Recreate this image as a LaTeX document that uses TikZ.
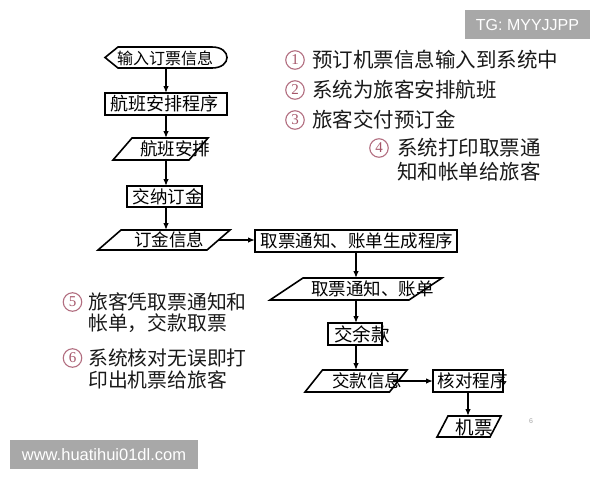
\documentclass[tikz,border=0pt]{standalone}
\usepackage{fontspec}
\setmainfont{Noto Sans CJK SC}
\newfontfamily\wmfont{Liberation Sans}
\newfontfamily\digitfont{Liberation Serif}
\usetikzlibrary{arrows.meta}
\definecolor{numcol}{RGB}{165,85,105}
\definecolor{wmgray}{RGB}{168,168,168}
\definecolor{txtcol}{RGB}{25,25,25}
\newcommand\mypara[6]{%
  \node[ghost, minimum width=#4pt, minimum height=#5pt] (#1) at (#2,#3) {};
  \draw[outline] ([xshift=#6pt]#1.north west) -- (#1.north east) -- ([xshift=-#6pt]#1.south east) -- (#1.south west) -- cycle;
}
\begin{document}
\begin{tikzpicture}[x=1pt,y=-1pt,
  ghost/.style={inner sep=0pt,outer sep=0pt,draw=none},
  outline/.style={line width=1.6pt,line join=miter,draw=black},
  rectbox/.style={ghost,draw=black,line width=1.6pt},
  arr/.style={line width=1.3pt,-{Latex[length=7pt,width=5.5pt]}},
  boxtxt/.style={inner sep=0pt,font=\fontsize{17.5}{18}\selectfont},
  listtxt/.style={anchor=west,inner sep=0pt,text=txtcol},
  numtxt/.style={circle,draw=numcol!85,line width=1.1pt,minimum size=18.5pt,inner sep=0pt,text=numcol,font=\digitfont\fontsize{15}{16}\selectfont},
  wmbox/.style={fill=wmgray,inner sep=0pt,text=white},
]
\useasboundingbox (0,0) rectangle (600,480);
\fill[white] (0,0) rectangle (600,480);

% display shape (input)
\node[ghost, minimum width=122pt, minimum height=21pt] (in) at (166,57.5) {};
\draw[outline] (in.west) -- ([xshift=13pt]in.north west) -- ([xshift=-15pt]in.north east)
  .. controls ([xshift=5pt]in.north east) and ([xshift=5pt]in.south east) .. ([xshift=-15pt]in.south east)
  -- ([xshift=13pt]in.south west) -- cycle;
\node[boxtxt, font=\fontsize{16}{17}\selectfont] (tin) at (165,58) {输入订票信息};

% rectangles
\node[rectbox, minimum width=122pt, minimum height=22pt] (r1) at (166,104) {};
\node[boxtxt, font=\fontsize{18}{19}\selectfont] (tr1) at (164,104) {航班安排程序};

\node[rectbox, minimum width=75pt, minimum height=21pt] (r2) at (164.5,196.5) {};
\node[boxtxt] (tr2) at (167.5,196.5) {交纳订金};

\node[rectbox, minimum width=202pt, minimum height=22pt] (r3) at (356,241) {};
\node[boxtxt] (tr3) at (357,241) {取票通知、账单生成程序};

\node[rectbox, minimum width=54pt, minimum height=22pt] (r4) at (355,334) {};
\node[boxtxt, font=\fontsize{18.5}{19}\selectfont] (tr4) at (362,334) {交余款};

\node[rectbox, minimum width=70pt, minimum height=22pt] (r5) at (468,381) {};
\node[boxtxt] (tr5) at (472.5,381) {核对程序};

% parallelograms
\mypara{p1}{160.5}{149}{95}{22}{19}
\node[boxtxt] (tp1) at (175,149) {航班安排};
\mypara{p2}{164}{240}{132}{20}{23}
\node[boxtxt] (tp2) at (169,240) {订金信息};
\mypara{p3}{356}{289}{172}{22}{33}
\node[boxtxt] (tp3) at (372.5,289) {取票通知、账单};
\mypara{p4}{356}{381}{102}{22}{17.5}
\node[boxtxt] (tp4) at (367,381) {交款信息};
\mypara{p5}{469}{426.5}{64}{21}{11}
\node[boxtxt, font=\fontsize{18.5}{19}\selectfont] (tp5) at (474,427) {机票};

% connectors
\draw[arr] (in.south) -- (r1.north);
\draw[arr] (r1.south) -- (r1.south |- p1.north);
\draw[arr] (p1.south -| r1.south) -- (r2.north -| r1.south);
\draw[arr] (r2.south -| r1.south) -- (p2.north -| r1.south);
\draw[arr] ([xshift=-11.5pt]p2.east) -- (p2.east -| r3.west);
\draw[arr] (r3.south) -- (r3.south |- p3.north);
\draw[arr] (p3.south -| r3.south) -- (r4.north -| r3.south);
\draw[arr] (r4.south -| r3.south) -- (p4.north -| r3.south);
\draw[arr] ([xshift=-14pt]p4.east) -- (p4.east -| r5.west);
\draw[arr] (r5.south) -- (r5.south |- p5.north);

% numbered list, upper right
\begin{scope}[every node/.append style={font=\fontsize{20.5}{22}\selectfont}]
\node[numtxt] (n1) at (295,60) {1};
\node[listtxt] (l1) at (312,60) {预订机票信息输入到系统中};
\node[numtxt] (n2) at (295,90) {2};
\node[listtxt] (l2) at (312,90) {系统为旅客安排航班};
\node[numtxt] (n3) at (295,120) {3};
\node[listtxt] (l3) at (312,120) {旅客交付预订金};
\node[numtxt] (n4) at (379,148) {4};
\node[listtxt] (l4) at (397,148) {系统打印取票通};
\node[listtxt] (l4b) at (397,172) {知和帐单给旅客};
\end{scope}

% numbered list, left
\begin{scope}[every node/.append style={font=\fontsize{19.8}{21}\selectfont}]
\node[numtxt] (n5) at (72.5,302) {5};
\node[listtxt] (l5) at (88,302) {旅客凭取票通知和};
\node[listtxt] (l5b) at (88,323) {帐单，交款取票};
\node[numtxt] (n6) at (72.5,358) {6};
\node[listtxt] (l6) at (88,358) {系统核对无误即打};
\node[listtxt] (l6b) at (88,380) {印出机票给旅客};
\end{scope}

% page number
\node[inner sep=0pt, text=black!35, font=\wmfont\fontsize{7}{8}\selectfont] (pg) at (531,421) {6};

% watermarks
\node[wmbox, minimum width=125pt, minimum height=29pt, font=\wmfont\fontsize{16}{18}\selectfont] (tg) at (527.5,24.5) {TG: MYYJJPP};
\node[wmbox, minimum width=188pt, minimum height=29pt, font=\wmfont\fontsize{16.5}{18}\selectfont] (www) at (104,454.5) {www.huatihui01dl.com};
\end{tikzpicture}
\end{document}
